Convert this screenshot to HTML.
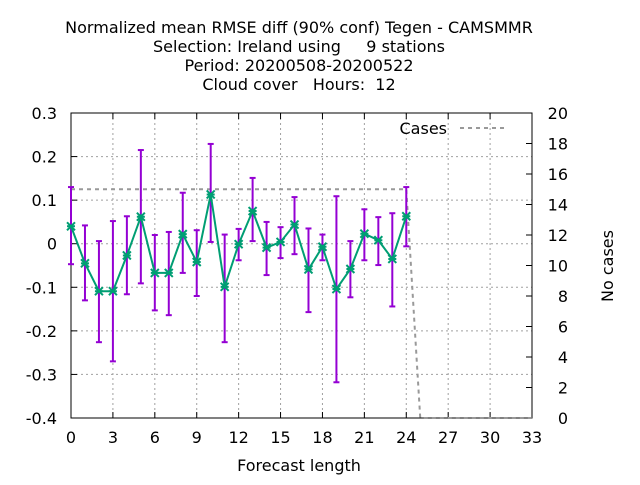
<!DOCTYPE html>
<html><head><meta charset="utf-8"><style>
body{margin:0;background:#fff;}
svg text{font-family:"DejaVu Sans","Liberation Sans",sans-serif;font-size:16px;fill:#000;white-space:pre;}
</style></head><body>
<svg id="chart" width="640" height="480" xmlns="http://www.w3.org/2000/svg">
<g id="titles" text-anchor="middle">
<text x="299" y="33" xml:space="preserve">Normalized mean RMSE diff (90% conf) Tegen - CAMSMMR</text>
<text x="299" y="52" xml:space="preserve">Selection: Ireland using     9 stations</text>
<text x="299" y="71" xml:space="preserve">Period: 20200508-20200522</text>
<text x="299" y="90" xml:space="preserve">Cloud cover   Hours:  12</text>
</g>
<g id="grid"></g>
<g id="axes"></g>
<g id="series"></g>
<text x="299" y="471" text-anchor="middle">Forecast length</text>
<text transform="translate(613,266) rotate(-90)" text-anchor="middle">No cases</text>
<g>
<text x="447" y="134" text-anchor="end">Cases</text>
<line x1="460" y1="128" x2="505" y2="128" stroke="#999" stroke-width="2" stroke-dasharray="4,4"/>
</g>
</svg>
<script>
const leads=[0,1,2,3,4,5,6,7,8,9,10,11,12,13,14,15,16,17,18,19,20,21,22,23,24];
const meanVals=[0.04,-0.045,-0.109,-0.109,-0.027,0.062,-0.067,-0.067,0.022,-0.042,0.113,-0.099,-0.001,0.075,-0.009,0.004,0.044,-0.059,-0.007,-0.104,-0.058,0.023,0.008,-0.035,0.063];
const upperVals=[0.13,0.042,0.006,0.052,0.063,0.215,0.02,0.027,0.117,0.031,0.229,0.021,0.034,0.151,0.05,0.038,0.107,0.035,0.021,0.109,0.006,0.079,0.061,0.07,0.13];
const lowerVals=[-0.047,-0.13,-0.226,-0.27,-0.116,-0.091,-0.153,-0.164,-0.067,-0.12,0.004,-0.226,-0.038,0.006,-0.072,-0.033,-0.024,-0.157,-0.038,-0.318,-0.123,-0.038,-0.049,-0.144,-0.006];
const caseLeads=[0,1,2,3,4,5,6,7,8,9,10,11,12,13,14,15,16,17,18,19,20,21,22,23,24,25,26,27,28,29,30,31,32,33];
const caseVals=[15,15,15,15,15,15,15,15,15,15,15,15,15,15,15,15,15,15,15,15,15,15,15,15,15,0,0,0,0,0,0,0,0,0];
const xTicks=[0,3,6,9,12,15,18,21,24,27,30,33];
const yTicks=[0.3,0.2,0.1,0,-0.1,-0.2,-0.3,-0.4];
const yTickLabels=["0.3","0.2","0.1","0","-0.1","-0.2","-0.3","-0.4"];
const y2Ticks=[0,2,4,6,8,10,12,14,16,18,20];

const L=71,R=532,T=113,B=418;
const X=v=>L+(v-0)/33*(R-L);
const Y=v=>B-(v+0.4)/0.7*(B-T);
const Y2=v=>B-v/20*(B-T);
const NS="http://www.w3.org/2000/svg";
function mk(parent,tag,attrs){const e=document.createElementNS(NS,tag);for(const k in attrs)e.setAttribute(k,attrs[k]);document.getElementById(parent).appendChild(e);return e;}

xTicks.forEach(t=>{
 if(t>0&&t<33){const g=mk('grid','line',{x1:X(t),x2:X(t),y1:T,y2:B,stroke:'#a0a0a0','stroke-dasharray':'2,3'});
 
 }
 const tk=mk('axes','line',{x1:X(t),x2:X(t),y1:B,y2:B-6,stroke:'#000'});
 
 
 const tk2=mk('axes','line',{x1:X(t),x2:X(t),y1:T,y2:T+6,stroke:'#000'});
 
 
 const tx=mk('axes','text',{x:X(t),y:B+25,'text-anchor':'middle'});tx.textContent=t;
 
 
});
yTicks.forEach((t,i)=>{
 if(i>0&&i<yTicks.length-1){const g=mk('grid','line',{x1:L,x2:R,y1:Y(t),y2:Y(t),stroke:'#a0a0a0','stroke-dasharray':'2,3'});
 
 }
 const tk=mk('axes','line',{x1:L,x2:L+6,y1:Y(t),y2:Y(t),stroke:'#000'});
 
 
 const tx=mk('axes','text',{x:L-14,y:Y(t)+6,'text-anchor':'end'});tx.textContent=yTickLabels[i];
 
 
});
y2Ticks.forEach(t=>{
 const tk=mk('axes','line',{x1:R,x2:R-6,y1:Y2(t),y2:Y2(t),stroke:'#000'});
 
 
 const tx=mk('axes','text',{x:R+36,y:Y2(t)+6,'text-anchor':'end'});tx.textContent=t;
 
 
});
const frame=mk('axes','rect',{x:L,y:T,width:R-L,height:B-T,fill:'none',stroke:'#000'});



const cp=mk('series','polyline',{points:caseLeads.map((v,i)=>X(v)+','+Y2(caseVals[i])).join(' '),fill:'none',stroke:'#999','stroke-width':2,'stroke-dasharray':'4,4'});



leads.forEach((v,i)=>{
 const x=X(v);
 const e=mk('series','line',{x1:x,x2:x,y1:Y(upperVals[i]),y2:Y(lowerVals[i]),stroke:'#9400d3','stroke-width':2});
 
 
 [upperVals[i],lowerVals[i]].forEach(u=>{const c=mk('series','line',{x1:x-3,x2:x+3,y1:Y(u),y2:Y(u),stroke:'#9400d3','stroke-width':2});
 
 });
});
const ml=mk('series','polyline',{points:leads.map((v,i)=>X(v)+','+Y(meanVals[i])).join(' '),fill:'none',stroke:'#009e73','stroke-width':2});


leads.forEach((v,i)=>{
 const x=X(v),y=Y(meanVals[i]);
 const p=mk('series','path',{d:`M${x-4},${y-4}L${x+4},${y+4}M${x-4},${y+4}L${x+4},${y-4}M${x-4},${y}L${x+4},${y}`,stroke:'#009e73','stroke-width':2,fill:'none'});
 
 
});
</script>
</body></html>
